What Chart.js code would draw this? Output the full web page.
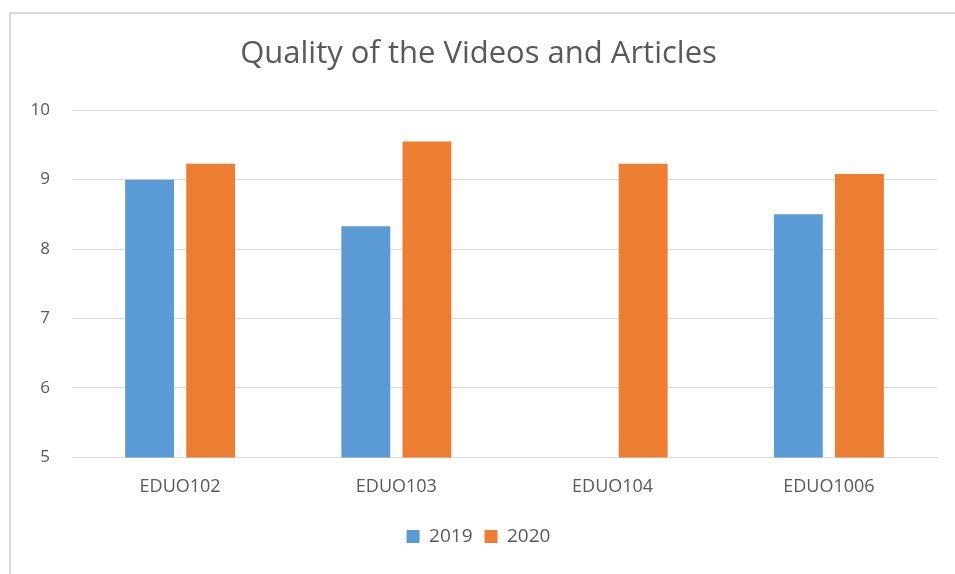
<!DOCTYPE html>
<html>
<head>
<meta charset="utf-8">
<script src="https://cdn.jsdelivr.net/npm/chart.js@4.4.1/dist/chart.umd.min.js"></script>
<style>
  html, body { margin: 0; padding: 0; background: #fff; }
  #frame {
    position: absolute; left: 9px; top: 12px; width: 980px; height: 600px;
    border-left: 2px solid #d9d9d9; border-top: 2px solid #d9d9d9;
  }
  #wrap { position: absolute; left: 0; top: 0; width: 955px; height: 574px; }
</style>
</head>
<body>
<div id="frame"></div>
<div id="wrap"><canvas id="grafico"></canvas></div>
<script>
// dados do gráfico
const cursos = ['EDUO102', 'EDUO103', 'EDUO104', 'EDUO1006'];
const notas2019 = [9.0, 8.33, null, 8.5];
const notas2020 = [9.23, 9.55, 9.23, 9.08];
const ticksY = [5, 6, 7, 8, 9, 10];

const corTexto = '#595959';
const fonte = '"Open Sans", Lato, sans-serif';

const ctx = document.getElementById('grafico').getContext('2d');
new Chart(ctx, {
    type: 'bar',
    data: {
        labels: cursos,
        datasets: [
            { label: '2019', data: notas2019, backgroundColor: '#5b9bd5', barPercentage: 0.8, categoryPercentage: 0.565 },
            { label: '2020', data: notas2020, backgroundColor: '#ed7d31', barPercentage: 0.8, categoryPercentage: 0.565 }
        ]
    },
    options: {
        responsive: true,
        maintainAspectRatio: false,
        animation: false,
        layout: { padding: { left: 20, right: 18, top: 36, bottom: 18 } },
        plugins: {
            title: {
                display: true,
                text: 'Quality of the Videos and Articles',
                color: corTexto,
                font: { family: fonte, size: 31, weight: 'normal' },
                padding: { top: 0, bottom: 37 }
            },
            legend: {
                position: 'bottom',
                labels: {
                    color: corTexto,
                    font: { family: fonte, size: 19 },
                    boxWidth: 13,
                    boxHeight: 13,
                    padding: 12
                }
            },
            tooltip: { enabled: false }
        },
        scales: {
            x: {
                grid: { display: false },
                border: { color: '#d9d9d9' },
                afterFit: (scale) => { scale.height += 6; },
                ticks: { color: corTexto, font: { family: fonte, size: 18 }, padding: 11 }
            },
            y: {
                min: 5,
                max: 10,
                afterBuildTicks: (scale) => { scale.ticks = ticksY.map(v => ({ value: v })); },
                afterFit: (scale) => { scale.width = 52; },
                grid: { color: '#d9d9d9', drawTicks: false },
                border: { display: false },
                ticks: { color: corTexto, font: { family: fonte, size: 17 }, padding: 22 }
            }
        }
    }
});
</script>
</body>
</html>
